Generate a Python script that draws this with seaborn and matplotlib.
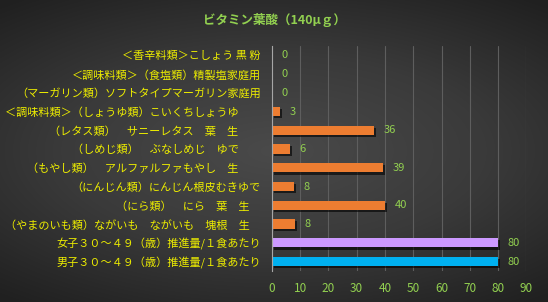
import numpy as np
import matplotlib
matplotlib.use('Agg')
import matplotlib.pyplot as plt
import matplotlib.patheffects as pe
import seaborn as sns

# Data (top to bottom as shown)
foods = [
    '＜香辛料類＞こしょう 黒 粉',
    '＜調味料類＞（食塩類）精製塩家庭用',
    '（マーガリン類）ソフトタイプマーガリン家庭用',
    '＜調味料類＞（しょうゆ類）こいくちしょうゆ　　',
    '（レタス類）　サニーレタス　葉　生　　',
    '（しめじ類）　ぶなしめじ　ゆで　　',
    '（もやし類）　アルファルファもやし　生　　',
    '（にんじん類）にんじん根皮むきゆで',
    '（にら類）　にら　葉　生　',
    '（やまのいも類）ながいも　ながいも　塊根　生　',
    '女子３０～４９（歳）推進量/１食あたり',
    '男子３０～４９（歳）推進量/１食あたり',
]
folate = [0, 0, 0, 2.9, 36.1, 6.4, 39.4, 7.7, 40.0, 8.2, 80, 80]
bar_colors = ['#ED7D31'] * 10 + ['#CC99FF', '#00B0F0']

title = 'ビタミン葉酸（140μｇ）'
label_yellow = '#EDED00'
value_green = '#92D050'

sns.set_style('dark')
plt.rcParams['font.family'] = ['Noto Sans CJK JP', 'DejaVu Sans']

fig = plt.figure(figsize=(5.48, 3.02), dpi=100)

# radial dark background
bg = fig.add_axes([0, 0, 1, 1], zorder=-10)
yy, xx = np.mgrid[-1:1:302j, -1:1:548j]
r = np.sqrt((xx * 0.9) ** 2 + (yy * 1.1) ** 2)
bg.imshow(r, cmap=matplotlib.colors.LinearSegmentedColormap.from_list(
    'bg', ['#4a4a4a', '#3a3a3a', '#202020']), vmin=0, vmax=1.4,
    aspect='auto', extent=[0, 1, 0, 1])
bg.axis('off')

ax = fig.add_axes([0.496, 0.103, 0.4646, 0.745])
ax.patch.set_alpha(0)

sns.barplot(x=folate, y=foods, hue=foods, palette=bar_colors, legend=False,
            orient='h', width=0.5, ax=ax, saturation=1, linewidth=0)

for bar in ax.patches:
    bar.set_path_effects([pe.SimplePatchShadow(offset=(1.5, -1.5), shadow_rgbFace='black', alpha=0.6),
                          pe.Normal()])

for cont in ax.containers:
    ax.bar_label(cont, fmt='%.0f', padding=7, color=value_green, fontsize=8)

ax.set_xlim(0, 90)
ax.set_xticks(range(0, 91, 10))
ax.grid(axis='x', color='#5e5e5e', linewidth=0.8)
ax.grid(axis='y', visible=False)
ax.set_axisbelow(True)
for s in ['top', 'right', 'bottom']:
    ax.spines[s].set_visible(False)
ax.spines['left'].set_color('#a6a6a6')
ax.spines['left'].set_linewidth(0.8)

ax.tick_params(axis='x', colors=value_green, labelsize=8.5, length=0, pad=8)
ax.tick_params(axis='y', colors=label_yellow, labelsize=8, length=0, pad=8)
ax.set_xlabel('')
ax.set_ylabel('')

fig.text(0.5, 0.935, title, ha='center', va='center', color=value_green,
         fontsize=9, fontweight='bold')

fig.savefig('out.png', dpi=100)
